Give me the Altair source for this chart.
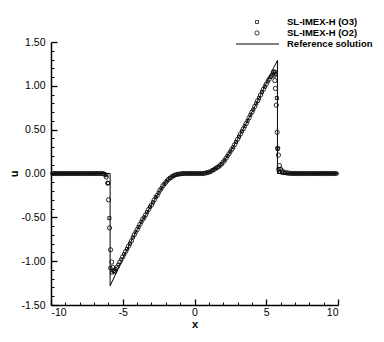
import altair as alt
import pandas as pd

# ---------------- data ----------------
series_names = ["SL-IMEX-H (O3)", "SL-IMEX-H (O2)", "Reference solution"]

ref_x = [-10, -5.88, -5.88, -5.5, -5.0, -4.5, -4.0, -3.5, -3.0, -2.5, -2.0, -1.5, -1.0, -0.5,
         0.0, 0.5, 1.0, 1.5, 2.0, 2.5, 3.0, 3.5, 4.0, 4.5, 5.0, 5.5, 5.78, 5.78, 10]
ref_u = [0, 0, -1.28, -1.15, -0.97, -0.80, -0.64, -0.50, -0.36, -0.22, -0.10, -0.03, -0.005, 0,
         0, 0, 0.015, 0.06, 0.13, 0.25, 0.39, 0.54, 0.70, 0.86, 1.03, 1.20, 1.29, 0.0, 0]

o3_x = [-9.9, -9.7, -9.5, -9.3, -9.1, -8.9, -8.7, -8.5, -8.3, -8.1, -7.9, -7.7, -7.5, -7.3, -7.1, -6.9, -6.7, -6.5,
        -6.3, -6.15, -6.02, -5.93, -5.86, -5.75, -5.62,
        -5.5, -5.3, -5.1, -4.9, -4.7, -4.5, -4.3, -4.1, -3.9, -3.7, -3.5, -3.3, -3.1, -2.9, -2.7, -2.5, -2.3, -2.1,
        -1.9, -1.7, -1.5, -1.3, -1.1, -0.9, -0.7, -0.5, -0.3, -0.1,
        0.1, 0.3, 0.5, 0.7, 0.9, 1.1, 1.3, 1.5, 1.7, 1.9, 2.1, 2.3, 2.5, 2.7, 2.9, 3.1, 3.3, 3.5, 3.7, 3.9,
        4.1, 4.3, 4.5, 4.7, 4.9, 5.1, 5.3, 5.5,
        5.6, 5.68, 5.74, 5.79, 5.85, 5.95, 6.1, 6.3,
        6.5, 6.7, 6.9, 7.1, 7.3, 7.5, 7.7, 7.9, 8.1, 8.3, 8.5, 8.7, 8.9, 9.1, 9.3, 9.5, 9.7, 9.9]
o3_u = [0, 0, 0, 0, 0, 0, 0, 0, 0, 0, 0, 0, 0, 0, 0, 0, 0, 0,
        -0.005, -0.02, -0.11, -0.51, -1.08, -1.13, -1.11,
        -1.09, -1.04, -0.98, -0.92, -0.86, -0.80, -0.73, -0.67, -0.61, -0.55, -0.50, -0.44, -0.38, -0.33,
        -0.27, -0.22, -0.17, -0.12, -0.08, -0.05, -0.03, -0.015, -0.007, -0.003, 0, 0, 0, 0,
        0, 0, 0, 0.003, 0.01, 0.02, 0.04, 0.06, 0.08, 0.11, 0.15, 0.20, 0.25, 0.30, 0.36, 0.42, 0.48, 0.54,
        0.60, 0.67, 0.73, 0.80, 0.86, 0.93, 0.99, 1.05, 1.10, 1.14,
        1.16, 1.13, 0.86, 0.28, 0.05, 0.02, 0.01, 0.005,
        0, 0, 0, 0, 0, 0, 0, 0, 0, 0, 0, 0, 0, 0, 0, 0, 0, 0]

o2_x = [-9.8, -9.6, -9.4, -9.2, -9.0, -8.8, -8.6, -8.4, -8.2, -8.0, -7.8, -7.6, -7.4, -7.2, -7.0, -6.8, -6.6, -6.4,
        -6.25, -6.15, -6.05, -5.99, -5.92, -5.85, -5.77, -5.7, -5.63, -5.55,
        -5.4, -5.2, -5.0, -4.8, -4.6, -4.4, -4.2, -4.0, -3.8, -3.6, -3.4, -3.2, -3.0, -2.8, -2.6, -2.4, -2.2,
        -2.0, -1.8, -1.6, -1.4, -1.2, -1.0, -0.8, -0.6, -0.4, -0.2,
        0.0,
        0.2, 0.4, 0.6, 0.8, 1.0, 1.2, 1.4, 1.6, 1.8, 2.0, 2.2, 2.4, 2.6, 2.8, 3.0, 3.2, 3.4, 3.6, 3.8, 4.0,
        4.2, 4.4, 4.6, 4.8, 5.0, 5.2, 5.4,
        5.5, 5.56, 5.6, 5.64, 5.7, 5.76, 5.8, 5.85, 5.92, 6.0, 6.1, 6.2,
        6.4, 6.6, 6.8, 7.0, 7.2, 7.4, 7.6, 7.8, 8.0, 8.2, 8.4, 8.6, 8.8, 9.0, 9.2, 9.4, 9.6, 9.8]
o2_u = [0, 0, 0, 0, 0, 0, 0, 0, 0, 0, 0, 0, 0, 0, 0, 0, 0, 0,
        -0.01, -0.04, -0.11, -0.30, -0.62, -0.87, -1.01, -1.07, -1.11, -1.12,
        -1.07, -1.01, -0.95, -0.89, -0.83, -0.77, -0.70, -0.64, -0.58, -0.52, -0.47, -0.41, -0.36, -0.30,
        -0.25, -0.19, -0.14, -0.10, -0.065, -0.04, -0.02, -0.01, -0.005, 0, 0, 0, 0,
        0,
        0, 0, 0, 0.006, 0.015, 0.03, 0.05, 0.07, 0.095, 0.13, 0.175, 0.225, 0.275, 0.33, 0.39, 0.45, 0.51,
        0.57, 0.635, 0.70, 0.765, 0.83, 0.895, 0.96, 1.02, 1.075, 1.12,
        1.16, 1.12, 1.06, 0.97, 0.78, 0.47, 0.29, 0.21, 0.09, 0.05, 0.03, 0.015,
        0.01, 0.005, 0, 0, 0, 0, 0, 0, 0, 0, 0, 0, 0, 0, 0, 0, 0, 0]

x_major = [-10, -5, 0, 5, 10]
x_minor = [-9, -8, -7, -6, -4, -3, -2, -1, 1, 2, 3, 4, 6, 7, 8, 9]
y_major = [-1.5, -1.0, -0.5, 0.0, 0.5, 1.0, 1.5]
y_minor = [-1.4, -1.3, -1.2, -1.1, -0.9, -0.8, -0.7, -0.6, -0.4, -0.3, -0.2, -0.1,
           0.1, 0.2, 0.3, 0.4, 0.6, 0.7, 0.8, 0.9, 1.1, 1.2, 1.3, 1.4]
legend_py = [-20, -9, 2]

# ---------------- frames ----------------
ref_df = pd.DataFrame({"x": ref_x, "u": ref_u, "i": list(range(len(ref_x)))})
o3_df = pd.DataFrame({"x": o3_x, "u": o3_u})
o2_df = pd.DataFrame({"x": o2_x, "u": o2_u})

FONT = "Liberation Sans"
MARK = "#111111"
xs = alt.Scale(domain=[-10, 10], nice=False, zero=False)
ys = alt.Scale(domain=[-1.5, 1.5], nice=False, zero=False)

x_main_axis = alt.Axis(values=x_major, orient="bottom", title="x", grid=False, ticks=False, tickSize=0,
                       domain=True, domainColor="black", domainWidth=1.5, labelPadding=2,
                       labelExpr="(datum.value < 0 ? '-' : '') + format(abs(datum.value), 'd')",
                       titlePadding=1)
y_main_axis = alt.Axis(values=y_major, orient="left", title="u", grid=False, ticks=False, tickSize=0,
                       domain=True, domainColor="black", domainWidth=1.5, labelPadding=6,
                       labelExpr="(datum.value < 0 ? '-' : '') + format(abs(datum.value), '.2f')",
                       titlePadding=2)

x_major_ticks = alt.Axis(values=x_major, orient="bottom", title=None, grid=False, labels=False, domain=False,
                         ticks=True, tickSize=6, tickWidth=1.3, tickColor="black", offset=-6)
y_major_ticks = alt.Axis(values=y_major, orient="left", title=None, grid=False, labels=False, domain=False,
                         ticks=True, tickSize=6, tickWidth=1.3, tickColor="black", offset=-6)
x_minor_ticks = alt.Axis(values=x_minor, orient="bottom", title=None, grid=False, labels=False, domain=False,
                         ticks=True, tickSize=3, tickWidth=1, tickColor="black", offset=-3)
y_minor_ticks = alt.Axis(values=y_minor, orient="left", title=None, grid=False, labels=False, domain=False,
                         ticks=True, tickSize=3, tickWidth=1, tickColor="black", offset=-3)

ref_line = alt.Chart(ref_df).mark_line(color="black", strokeWidth=1).encode(
    x=alt.X("x:Q", scale=xs, axis=x_main_axis),
    y=alt.Y("u:Q", scale=ys, axis=y_main_axis),
    order="i:Q",
)

o3_pts = alt.Chart(o3_df).mark_point(shape="square", size=9, filled=False, color=MARK,
                                     strokeWidth=1, opacity=1).encode(
    x=alt.X("x:Q", scale=xs, axis=x_major_ticks),
    y=alt.Y("u:Q", scale=ys, axis=y_major_ticks),
)

o2_pts = alt.Chart(o2_df).mark_point(shape="circle", size=18, filled=False, color=MARK,
                                     strokeWidth=0.9, opacity=1).encode(
    x=alt.X("x:Q", scale=xs, axis=x_minor_ticks),
    y=alt.Y("u:Q", scale=ys, axis=y_minor_ticks),
)

# ---------------- legend (top right) ----------------
leg_o3 = alt.Chart(pd.DataFrame({"label": [series_names[0]]})).mark_point(
    shape="square", size=9, filled=False, color=MARK, strokeWidth=0.8, opacity=1
).encode(x=alt.value(206), y=alt.value(-20))
leg_o2 = alt.Chart(pd.DataFrame({"label": [series_names[1]]})).mark_point(
    shape="circle", size=18, filled=False, color=MARK, strokeWidth=0.8, opacity=1
).encode(x=alt.value(206), y=alt.value(-9))
leg_ref = alt.Chart(pd.DataFrame({"label": [series_names[2]]})).mark_rule(
    color="black", strokeWidth=1
).encode(x=alt.value(185), x2=alt.value(228), y=alt.value(2))
leg_text = alt.Chart(pd.DataFrame({"label": series_names, "py": legend_py})).mark_text(
    align="left", baseline="middle", font=FONT, fontSize=9.5, fontWeight="bold", color="black"
).encode(x=alt.value(236), y=alt.Y("py:Q", scale=None, axis=None), text="label:N")

chart = alt.layer(ref_line, o3_pts, o2_pts, leg_o3, leg_o2, leg_ref, leg_text).resolve_axis(
    x="independent", y="independent"
).properties(
    width=287, height=263,
    autosize=alt.AutoSizeParams(type="none"),
    padding={"left": 43, "top": 34, "right": 38, "bottom": 29},
    background="white",
).configure_view(stroke=None).configure_axis(
    labelFont=FONT, labelFontSize=10.5, labelColor="black",
    titleFont=FONT, titleFontSize=11, titleFontWeight="bold", titleColor="black",
)

chart.save("out.html", embed_options={"renderer": "svg", "actions": False})
